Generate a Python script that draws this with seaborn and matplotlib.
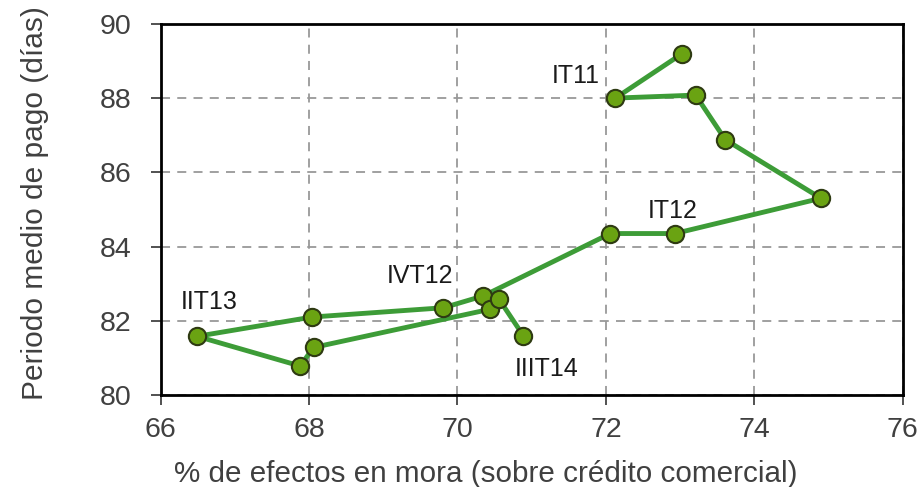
import matplotlib
matplotlib.use("Agg")
import matplotlib.pyplot as plt
import seaborn as sns
import pandas as pd

# Data (quarter order)
quarters = ["IVT10", "IT11", "IIT11", "IIIT11", "IVT11", "IT12", "IIT12", "IIIT12",
            "IVT12", "IT13", "IIT13", "IIIT13", "IVT13", "IT14", "IIT14", "IIIT14"]
mora = [73.03, 72.13, 73.21, 73.61, 74.90, 72.93, 72.06, 70.35,
        69.81, 68.04, 66.49, 67.88, 68.06, 70.44, 70.56, 70.89]
dias = [89.20, 88.00, 88.08, 86.88, 85.30, 84.35, 84.35, 82.67,
        82.35, 82.10, 81.58, 80.78, 81.28, 82.31, 82.58, 81.59]

label_names = ["IT11", "IT12", "IVT12", "IIT13", "IIIT14"]
label_x = [71.6, 72.9, 69.5, 66.65, 71.2]
label_y = [88.6, 84.95, 83.2, 82.5, 80.7]

df = pd.DataFrame({"mora": mora, "dias": dias, "q": quarters})

sns.set_theme(style="white")
plt.rcParams["font.family"] = ["Liberation Sans", "DejaVu Sans"]

fig = plt.figure(figsize=(9.21, 4.87), dpi=100)
ax = fig.add_axes([0.1745, 0.189, 0.8055, 0.762])

sns.lineplot(data=df, x="mora", y="dias", sort=False, ax=ax,
             color="#3d9c37", linewidth=3.5, zorder=3)
sns.scatterplot(data=df, x="mora", y="dias", ax=ax, s=155,
                color="#6aa312", edgecolor="#2e3a12", linewidth=1.5, zorder=4)

for n, lx, ly in zip(label_names, label_x, label_y):
    ax.text(lx, ly, n, ha="center", va="center", fontsize=18, color="#1a1a1a")

ax.set_xlim(66, 76)
ax.set_ylim(80, 90)
ax.set_xticks([66, 68, 70, 72, 74, 76])
ax.set_yticks([80, 82, 84, 86, 88, 90])
ax.grid(True, color="#999999", linestyle=(0, (5, 4)), linewidth=1.3)
ax.set_axisbelow(True)
for s in ax.spines.values():
    s.set_color("black")
    s.set_linewidth(2)
ax.tick_params(axis="both", direction="out", length=7, width=1.2, color="#333333",
               labelsize=20.5, labelcolor="#404040", left=True, bottom=True)
ax.tick_params(axis="y", pad=14)
ax.tick_params(axis="x", pad=9)
ax.set_xlabel("% de efectos en mora (sobre crédito comercial)", fontsize=21.3, color="#404040", va="center")
ax.set_ylabel("Periodo medio de pago (días)", fontsize=21.5, color="#404040", va="center")
ax.xaxis.set_label_coords(0.438, -0.213)
ax.yaxis.set_label_coords(-0.170, 0.5175)

fig.savefig("out.png", dpi=100)
